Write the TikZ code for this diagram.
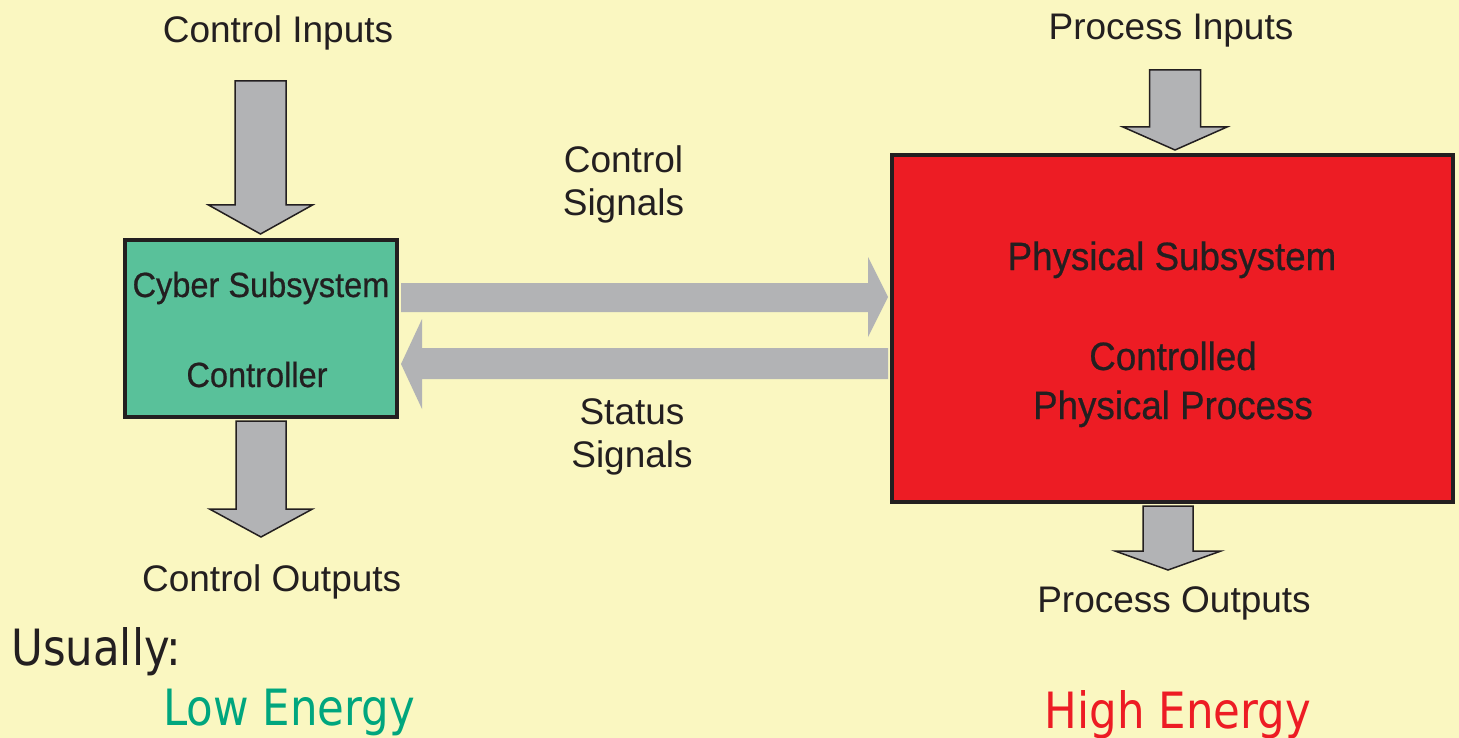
\documentclass[tikz,border=0pt]{standalone}
\usepackage{fontspec}
\setmainfont{Liberation Sans}
\newfontfamily\boxfont[FakeStretch=0.93,FakeBold=0.6]{Liberation Sans}
\newfontfamily\notefont[FakeStretch=0.87]{DejaVu Sans}
\usetikzlibrary{calc}

\definecolor{bgyellow}{RGB}{250,247,193}
\definecolor{cybergreen}{RGB}{89,193,154}
\definecolor{physred}{RGB}{237,28,36}
\definecolor{arrowgray}{RGB}{178,179,181}
\definecolor{inkdark}{RGB}{35,31,32}
\definecolor{lowgreen}{RGB}{0,166,126}

\begin{document}
\begin{tikzpicture}[
                x=1pt, y=-1pt,
                % Estilos de los bloques
                cyber box/.style={
                    draw=inkdark,
                    fill=cybergreen,
                    line width=4pt,
                    minimum width=272pt,
                    minimum height=177pt
                },
                phys box/.style={
                    draw=inkdark,
                    fill=physred,
                    line width=4pt,
                    minimum width=561pt,
                    minimum height=347pt
                },
                io arrow/.style={
                    fill=arrowgray,
                    draw=inkdark,
                    line width=1.5pt,
                    line join=miter
                },
                signal arrow/.style={
                    fill=arrowgray
                },
                label text/.style={
                    text=inkdark,
                    inner sep=0pt,
                    anchor=base,
                    align=center,
                    font=\fontsize{37}{43}\selectfont
                },
                box text/.style={
                    text=inkdark,
                    inner sep=0pt,
                    anchor=base,
                    align=center
                },
                note text/.style={
                    inner sep=0pt,
                    anchor=base,
                    font=\notefont\fontsize{50}{60}\selectfont
                }
            ]

                % --- FONDO ---
                \useasboundingbox (0,0) rectangle (1459,738);
                \fill[bgyellow] (0,0) rectangle (1459,738);

                % --- BLOQUES ---
                \node[cyber box] (cyber) at (261,328.5) {};
                \node[box text, font=\boxfont\fontsize{35}{42}\selectfont] (cybertitle) at (261,297) {Cyber Subsystem};
                \node[box text, font=\boxfont\fontsize{35}{42}\selectfont] (ctrl) at (257,387) {Controller};

                \node[phys box] (phys) at (1172.5,328.5) {};
                \node[box text, font=\boxfont\fontsize{39.5}{49}\selectfont] (phystitle) at (1172,270) {Physical Subsystem};
                \node[box text, font=\boxfont\fontsize{39.5}{49}\selectfont] (proc) at (1173,419) {Controlled\\Physical Process};

                % --- FLECHAS DE SEÑALES ---
                % Control Signals (cyber -> phys)
                \coordinate (ctltip) at ($(phys.west)+(-2,-31.5)$);
                \fill[signal arrow] (ctltip) -- ++(-20,-40) -- ++(0,26) -- ($(cyber.east)+(2,-45.5)$)
                    -- ++(0,29) -- ($(ctltip)+(-20,15)$) -- ++(0,25) -- cycle;
                % Status Signals (phys -> cyber)
                \coordinate (sttip) at ($(cyber.east)+(2,35.5)$);
                \fill[signal arrow] (sttip) -- ++(21,-45) -- ++(0,29) -- ($(phys.west)+(-2,19.5)$)
                    -- ++(0,31) -- ($(sttip)+(21,15)$) -- ++(0,30) -- cycle;

                \node[label text] (ctlsig) at (623.5,215) {Control\\Signals};
                \node[label text] (stsig) at (632,467.5) {Status\\Signals};

                % --- ENTRADAS Y SALIDAS ---
                \coordinate (cintip) at ($(cyber.north)+(-0.5,-4)$);
                \coordinate (couttip) at ($(cyber.south)+(0,118)$);
                \coordinate (pintip) at ($(phys.north)+(2.5,-3)$);
                \coordinate (pouttip) at ($(phys.south)+(-4.5,66)$);

                % punta / media cabeza / medio cuerpo / largo cabeza / largo cuerpo
                \foreach \tip/\hw/\sw/\hl/\sl in {cintip/52/25.5/29/124, couttip/51.5/25/28/88,
                                                   pintip/52/25.5/23/57, pouttip/53/25/19/45} {
                    \filldraw[io arrow] (\tip) -- ++(-\hw,-\hl) -- ++(\hw-\sw,0) -- ++(0,-\sl)
                        -- ++(2*\sw,0) -- ++(0,\sl) -- ++(\hw-\sw,0) -- cycle;
                }

                \node[label text] (cin) at (278,42.3) {Control Inputs};
                \node[label text] (cout) at (271.7,591.7) {Control Outputs};
                \node[label text] (pin) at (1171,40) {Process Inputs};
                \node[label text] (pout) at (1174,612.7) {Process Outputs};

                % --- NIVELES DE ENERGÍA ---
                \node[note text, anchor=base west, text=inkdark] (usually) at (11,665) {Usually:};
                \node[note text, text=lowgreen] (low) at (289,725) {Low Energy};
                \node[note text, text=physred] (high) at (1178,728) {High Energy};

            \end{tikzpicture}
\end{document}
